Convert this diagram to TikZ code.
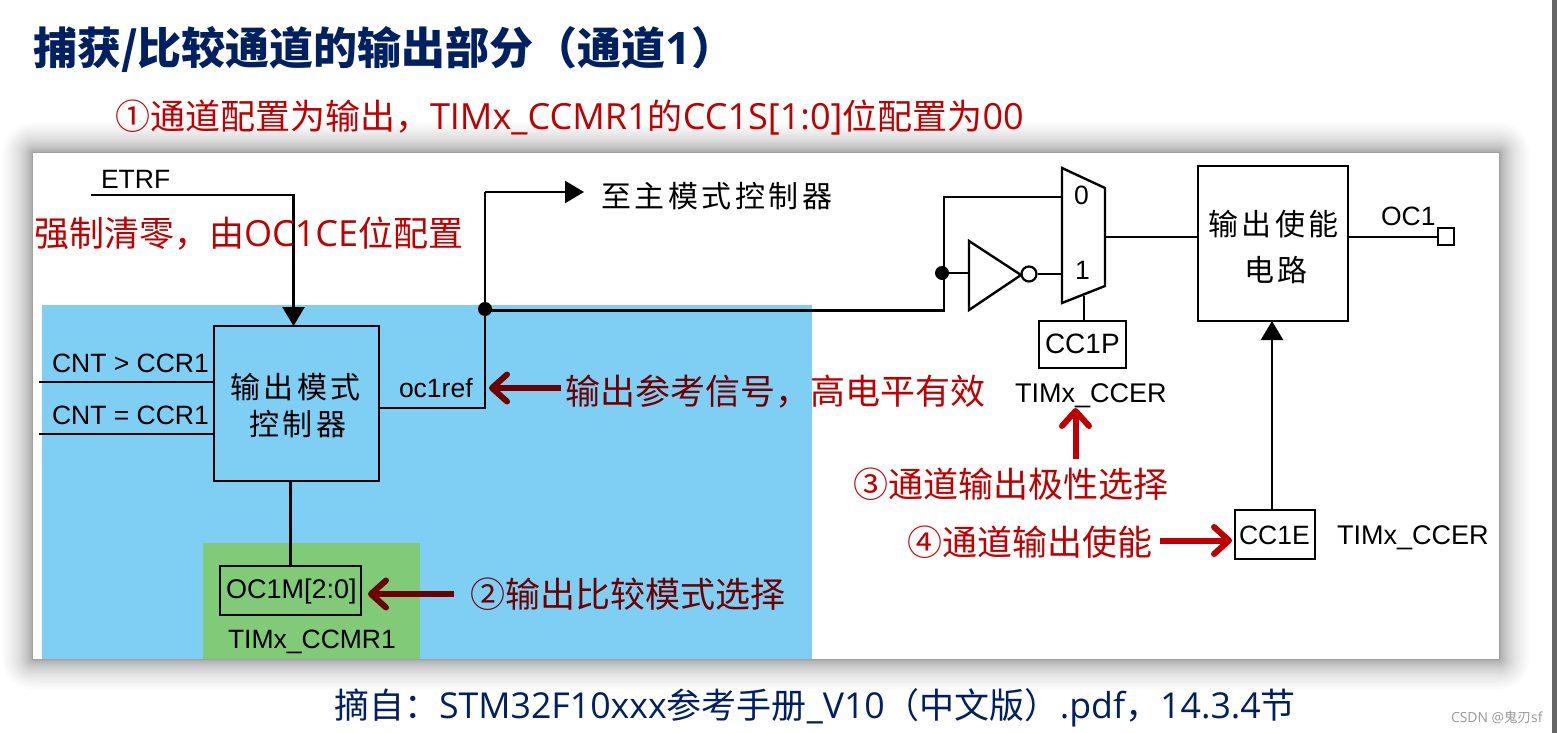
\documentclass[tikz,border=0pt]{standalone}
\usepackage{fontspec}
\setmainfont{Liberation Sans}
\newfontfamily\fcj{Noto Sans CJK SC}
\newfontfamily\fcs[LetterSpace=12]{Noto Sans CJK SC}
\newfontfamily\fop[Scale=1.03]{Open Sans}
\newfontfamily\fob[Scale=1.02]{Open Sans}
\newcommand\fsz[1]{\fontsize{#1}{#1}\selectfont}
\usetikzlibrary{arrows.meta}
\definecolor{navy}{HTML}{002060}
\definecolor{red1}{HTML}{C00000}
\definecolor{red2}{HTML}{6E0000}
\definecolor{blue1}{HTML}{7FCEF4}
\definecolor{green1}{HTML}{80CA78}
\tikzset{
  txt/.style={inner sep=0pt,outer sep=0pt,anchor=base west},
  dia/.style={txt,font=\fsz{26.5},text=black},
  diacj/.style={txt,font=\fcs\fsz{30},text=black},
  redt/.style={txt,font=\fcj\fsz{35},text=red1},
  boxn/.style={draw=black,line width=2.6pt,inner sep=0pt,outer sep=0pt},
  wire/.style={draw=black,line width=2.4pt},
  head/.style={wire,-{Triangle[length=19pt,width=22pt]}},
  dotn/.style={circle,fill=black,inner sep=0pt,minimum size=14pt},
  callout/.style={line width=6pt,-{Straight Barb[round,length=15pt,width=27pt]}},
}
\begin{document}
\begin{tikzpicture}[x=1pt,y=-1pt]
\useasboundingbox (0,0) rectangle (1557,733);
\fill[white] (0,0) rectangle (1557,733);
% soft shadow round the sheet
\foreach \i in {1,...,30}{
  \pgfmathsetmacro\e{(\i/30)*(\i/30)*sqrt(\i/30)*30}
  \fill[black,fill opacity=0.017,rounded corners=\e pt] (33-\e,153-\e) rectangle (1499+\e,659+\e);
}
\fill[white] (33,153) rectangle (1499,659);
\fill[black!60] (1552,0) rectangle (1557,733);
\fill[blue1] (42,305) rectangle (812,659);
\fill[green1] (203,543) rectangle (420,659);

% title lines
\node[txt,font=\fcj\bfseries\fsz{44},text=navy] (title) at (33,65) {捕获/比较通道的输出部分（通道{\fob\bfseries 1}）};
\node[redt] (step1) at (115,129) {①通道配置为输出，{\fop TIMx\_CCMR1}的{\fop CC1S[1:0]}位配置为{\fop 00}};
\node[txt,font=\fcj\fsz{35},text=navy] (source) at (334,718) {摘自：{\fob STM32F10xxx}参考手册{\fob \_V10}（中文版）{\fob .pdf}，{\fob 14.3.4}节};
\node[txt,font=\fcj\fsz{13.5},text=black!40] (mark) at (1451,722) {{\fop CSDN @}鬼刃{\fop sf}};

% boxes
\node[boxn,minimum width=165pt,minimum height=155pt] (ctrl) at (296.5,403.5) {};
\node[boxn,minimum width=141pt,minimum height=49pt] (ocm) at (290.5,590.5) {};
\node[boxn,minimum width=87pt,minimum height=47pt] (ccp) at (1082.5,344.5) {};
\node[boxn,minimum width=150pt,minimum height=155pt] (oen) at (1273,243.5) {};
\node[boxn,minimum width=80pt,minimum height=49pt] (cce) at (1275,534.5) {};
\node[draw=black,line width=2.2pt,inner sep=0pt,outer sep=0pt,minimum width=16pt,minimum height=17pt] (pin) at (1446,236.5) {};

% junctions and free ends
\coordinate (etrf0) at (91,195);
\coordinate (etrf1) at (293.5,195);
\coordinate (c1) at (39,382);
\coordinate (c2) at (39,434);
\coordinate (c1e) at (214,382);
\coordinate (c2e) at (214,434);
\coordinate (ref0) at (378,408);
\coordinate (ref1) at (485,408);
\coordinate (up) at (485,192);
\coordinate (toMaster) at (584,192);
\coordinate (run) at (944,310.5);
\coordinate (top) at (944,197);
\coordinate (m0) at (1062,197);
\coordinate (invIn) at (969,273);
\coordinate (m1) at (1062,274);
\coordinate (mOut) at (1105,237);
\coordinate (oenIn) at (1198,237);
\coordinate (oenOut) at (1348,237);
\coordinate (pinIn) at (1438,237);
\coordinate (mb) at (1084,296);
\node[dotn] (j1) at (485,309) {};
\node[dotn] (j2) at (942,273) {};
\node[draw=black,line width=2.2pt,circle,inner sep=0pt,minimum size=15pt,fill=white] (bub) at (1029,274) {};

% wires
\draw[head] (etrf0) -- (etrf1) -- (ctrl.north -| etrf1);
\draw[wire] (c1) -- (c1e);
\draw[wire] (c2) -- (c2e);
\draw[wire] (ref0) -- (ref1) -- (up);
\draw[head] (up) -- (toMaster);
\draw[wire] (j1.center) -- (485,310.5) -- (run) -- (top) -- (m0);
\draw[wire] (j2.center) -- (invIn);
\draw[wire] (bub.east) -- (m1);
\draw[wire] (mOut) -- (oenIn);
\draw[wire] (oenOut) -- (pinIn);
\draw[wire] (mb) -- (ccp.north -| mb);
\draw[wire] (ctrl.south -| ocm.north) -- (ocm.north);
\draw[head] (cce.north -| 1272,0) -- (oen.south -| 1272,0);

% inverter and multiplexer
\draw[wire,line join=miter] (969,241) -- (1021,275) -- (969,310) -- cycle;
\draw[wire,line join=miter] (1062,168) -- (1105,188) -- (1105,286) -- (1062,303) -- cycle;

% diagram labels
\node[dia] (lEtrf) at (101,188) {ETRF};
\node[dia] (lGt) at (52,372) {CNT > CCR1};
\node[dia] (lEq) at (52,424.5) {CNT = CCR1};
\node[dia] (lRef) at (399,397) {oc1ref};
\node[dia] (l0) at (1074,204) {0};
\node[dia] (l1) at (1075,279) {1};
\node[dia] (lOc) at (1381,225) {OC1};
\node[dia,font=\fsz{28}] (lCcp) at (1045,353) {CC1P};
\node[dia,font=\fsz{27}] (lCcer) at (1015,402) {TIMx\_CCER};
\node[dia] (lCce) at (1239,544) {CC1E};
\node[dia,font=\fsz{27}] (lCcer2) at (1337,544) {TIMx\_CCER};
\node[dia,font=\fsz{27}] (lOcm) at (226,598) {OC1M[2:0]};
\node[dia] (lCcmr) at (228,648) {TIMx\_CCMR1};
\node[diacj] (t1) at (230,398) {输出模式};
\node[diacj] (t2) at (249,435) {控制器};
\node[diacj] (t3) at (601,207) {至主模式控制器};
\node[diacj] (t4) at (1208,235) {输出使能};
\node[diacj] (t5) at (1244,281) {电路};

% annotations
\node[redt] (force) at (34,246) {强制清零，由{\fop OC1CE}位配置};
\node[redt,text=red2] (sig) at (565,404) {输出参考信号，{\color{red1}高电平有效}};
\node[redt,text=red2] (step2) at (470,607) {②输出比较模式选择};
\node[redt] (step3) at (853,497) {③通道输出极性选择};
\node[redt] (step4) at (907,555) {④通道输出使能};

\coordinate (a1t) at (561,388);
\coordinate (a1h) at (489,388);
\coordinate (a2t) at (454,594);
\coordinate (a2h) at (368,594);
\coordinate (a3t) at (1075.5,459);
\coordinate (a3h) at (1075.5,408);
\coordinate (a4t) at (1160,540.5);
\coordinate (a4h) at (1232,540.5);
\draw[callout,red2] (a1t) -- (a1h);
\draw[callout,red2] (a2t) -- (a2h);
\draw[callout,red1] (a3t) -- (a3h);
\draw[callout,red1] (a4t) -- (a4h);
\end{tikzpicture}
\end{document}
